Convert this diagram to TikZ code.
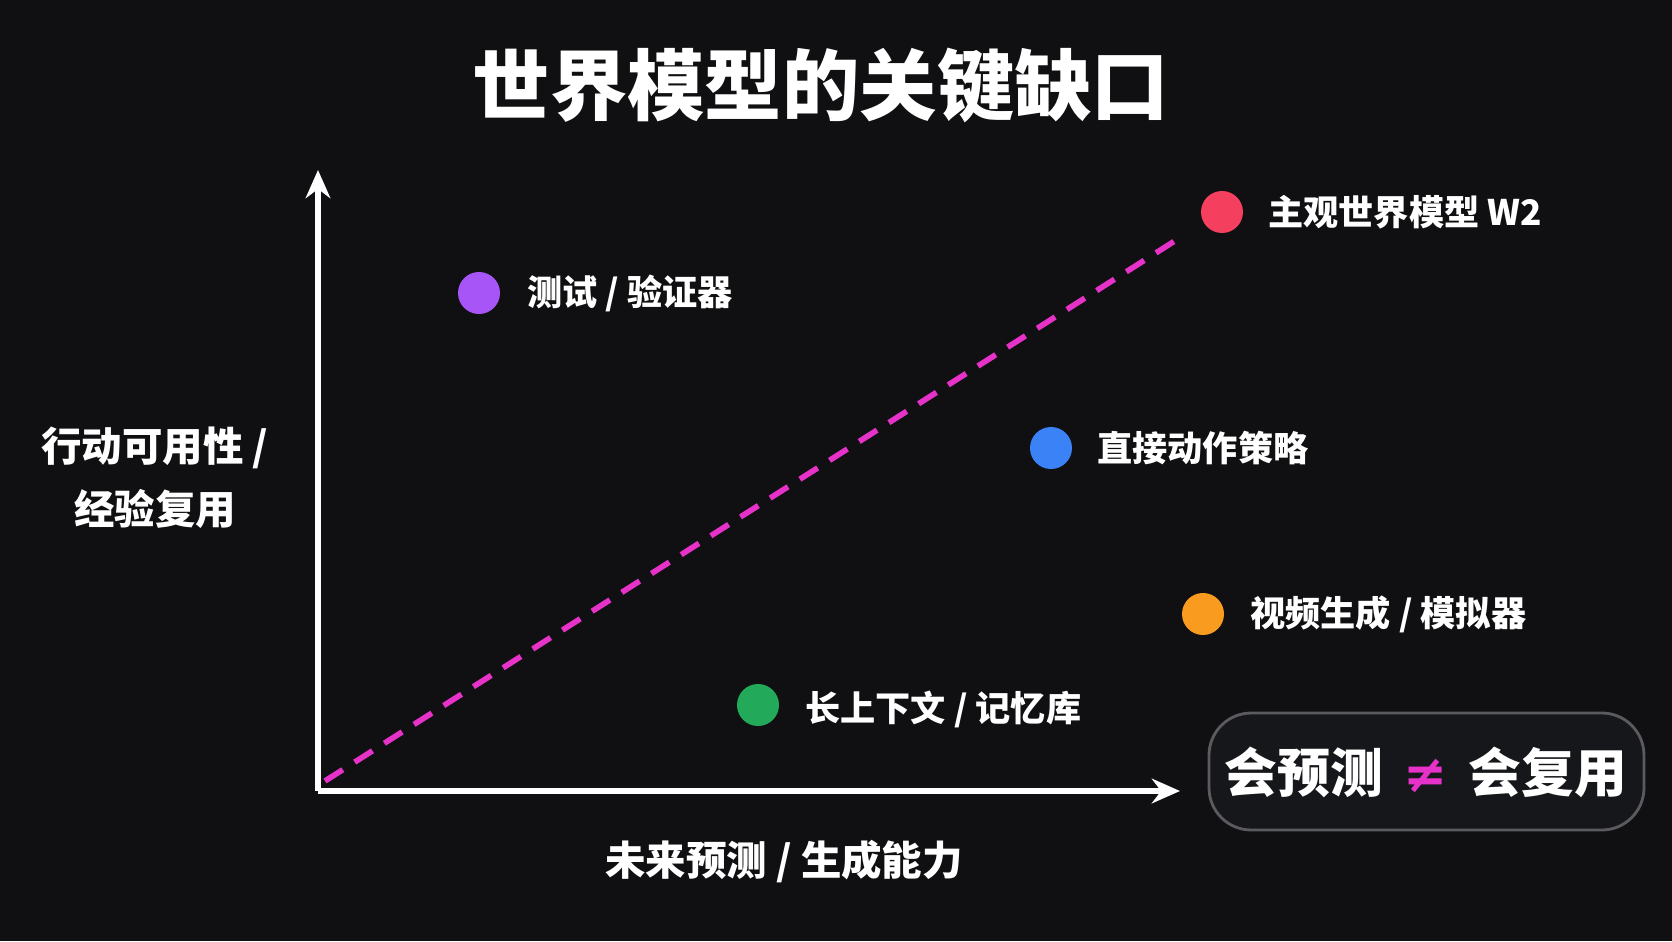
\documentclass[tikz,border=0pt]{standalone}
\usepackage{fontspec}
\usetikzlibrary{arrows.meta}
\setmainfont{Noto Sans CJK SC}
\newfontfamily\symf{DejaVu Sans}
\begin{document}
\begin{tikzpicture}[x=0.01cm,y=0.01cm,
  dot/.style={circle,inner sep=0pt,minimum size=0.42cm},
  lbl/.style={anchor=west,text=white,font=\fontsize{10}{12}\selectfont\bfseries},
  axl/.style={text=white,font=\fontsize{11.5}{18}\selectfont\bfseries,align=center}]
\fill[fill={rgb,255:red,16;green,16;blue,18}] (0,0) rectangle (1672,941);
\useasboundingbox (0,0) rectangle (1672,941);
\node[text=white,font=\fontsize{22}{26}\selectfont\bfseries] (title) at (821,856) {世界模型的关键缺口};
\coordinate (o) at (318,150);
\coordinate (ytop) at (318,771);
\coordinate (xend) at (1180,150);
\draw[white,line width=1.6pt,-{Stealth[length=8pt,width=7pt]}] (o) -- (ytop);
\draw[white,line width=1.6pt,-{Stealth[length=8pt,width=7pt]}] (o) -- (xend);
\coordinate (d0) at (325,160);
\coordinate (d1) at (1181,704);
\draw[color={rgb,255:red,230;green,50;blue,200},line width=1.6pt,dash pattern=on 6pt off 4pt] (d0) -- (d1);
\node[dot,fill={rgb,255:red,168;green,85;blue,247}] (p) at (479,648) {};
\node[lbl] (pl) at (515,648) {测试 / 验证器};
\node[dot,fill={rgb,255:red,244;green,63;blue,94}] (r) at (1222,729) {};
\node[lbl] (rl) at (1256,729) {主观世界模型 W2};
\node[dot,fill={rgb,255:red,59;green,130;blue,246}] (b) at (1051,493) {};
\node[lbl] (bl) at (1085,493) {直接动作策略};
\node[dot,fill={rgb,255:red,249;green,155;blue,30}] (or) at (1203,327) {};
\node[lbl] (ol) at (1238,327) {视频生成 / 模拟器};
\node[dot,fill={rgb,255:red,34;green,170;blue,90}] (g) at (758,236) {};
\node[lbl] (gl) at (793,232) {长上下文 / 记忆库};
\node[axl] (yl) at (155,463) {行动可用性 /\\经验复用};
\node[axl] (xl) at (784,79) {未来预测 / 生成能力};
\draw[draw={rgb,255:red,90;green,90;blue,95},fill={rgb,255:red,22;green,23;blue,27},line width=0.8pt,rounded corners=12pt] (1209,111) rectangle (1644,228);
\node[text=white,font=\fontsize{15}{18}\selectfont\bfseries] (bx) at (1426,169) {会预测\, {\symf\textcolor[RGB]{230,50,200}{≠}}\, 会复用};
\end{tikzpicture}
\end{document}
